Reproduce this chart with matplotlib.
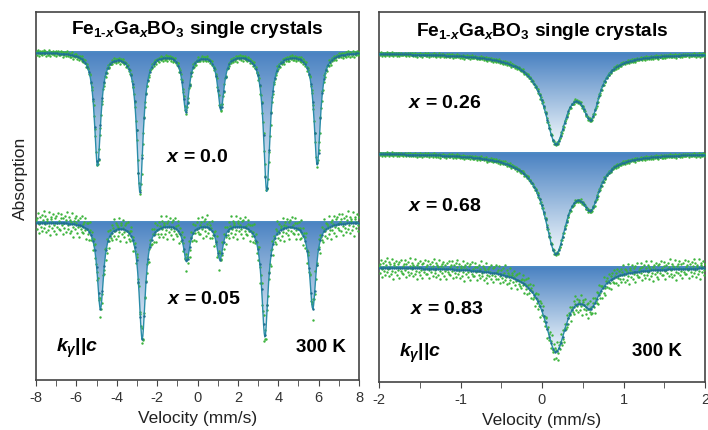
import numpy as np
import matplotlib
matplotlib.use("Agg")
import matplotlib.pyplot as plt
from matplotlib.colors import LinearSegmentedColormap
from matplotlib.patches import Polygon
from matplotlib.ticker import MultipleLocator

plt.rcParams["font.family"] = ["Liberation Sans", "DejaVu Sans"]
plt.rcParams["mathtext.fontset"] = "custom"
plt.rcParams["mathtext.rm"] = "Liberation Sans:bold"
plt.rcParams["mathtext.it"] = "Liberation Sans:italic:bold"
plt.rcParams["mathtext.bf"] = "Liberation Sans:bold"
plt.rcParams["axes.unicode_minus"] = False

# ── Data (vertical units = offset in plot units) ──
# left panel: six-line spectra
left_baseline  = [328, 158]
left_pos_00    = [-4.95, -2.85, -0.57, 1.16, 3.43, 5.93]
left_depth_00  = [113, 139, 58, 56, 138, 112]
left_hw_00     = [0.19, 0.19, 0.19, 0.19, 0.19, 0.19]
left_pos_05    = [-4.81, -2.74, -0.54, 1.11, 3.34, 5.71]
left_depth_05  = [86, 116, 38, 36, 114, 86]
left_hw_05     = [0.19, 0.19, 0.19, 0.19, 0.19, 0.19]
left_noise     = [1.6, 6.0]

# right panel: doublets (main line, second line, broad part)
right_baseline = [329, 229, 115]
right_pos      = [0.17, 0.60, 0.15]
right_hw       = [0.16, 0.13, 0.45]
right_depth_26 = [74.6, 51.9, 12]
right_depth_68 = [84.5, 41.2, 13]
right_depth_83 = [72.6, 28.1, 10]
right_noise    = [1.0, 1.0, 5.0]

# scatter of measured points around fit (typed, reused along the channels)
resid = [0.4, -1.1, 0.8, 1.6, -0.3, -1.8, 0.9, 0.1, -0.7, 1.3, -1.4, 0.5,
         2.0, -0.9, -0.2, 1.1, -1.6, 0.7, 0.3, -1.2, 1.8, -0.5, -2.1, 0.6,
         1.0, -0.8, 0.2, 1.5, -1.3, -0.4, 0.9, -1.9, 1.2, 0.0, -0.6, 1.7, -1.0]

GREEN = "#3cb43c"
FIT   = "#2a8ca8"
BASE  = "#4a88c4"
cmap  = LinearSegmentedColormap.from_list("grad", ["#f2f8fc", "#4a82c2"])


def absorption(v, pos, depth, hw):
    a = np.zeros_like(v)
    for p, d, g in zip(pos, depth, hw):
        a += d / (1 + ((v - p) / g) ** 2)
    return a


def draw_spectrum(ax, v, base, pos, depth, hw, noise, xr):
    fit = base - absorption(v, pos, depth, hw)
    ymin = fit.min()
    verts = np.column_stack([np.r_[v, v[::-1]], np.r_[fit, np.full_like(v, base)]])
    poly = Polygon(verts, closed=True, facecolor="none", edgecolor="none")
    ax.add_patch(poly)
    grad = np.linspace(0, 1, 256).reshape(-1, 1)
    im = ax.imshow(grad, cmap=cmap, origin="lower", aspect="auto",
                   extent=[xr[0], xr[1], ymin, base], zorder=1)
    im.set_clip_path(poly)
    ax.axhline(base, color=BASE, lw=1.4, zorder=2)
    pts = fit + noise * np.resize(resid, v.size)
    ax.scatter(v, pts, s=3, color=GREEN, lw=0, zorder=3)
    ax.plot(v, fit, color=FIT, lw=1.0, zorder=4)
    ax.plot(v[::3], fit[::3], ".", color="#1f6f8f", ms=1.5, zorder=4)


def style_axes(ax):
    for s in ax.spines.values():
        s.set_color("#444444")
        s.set_linewidth(1.2)
    ax.set_yticks([])
    ax.tick_params(axis="x", which="both", direction="out", length=4,
                   color="#444444", labelsize=10.5, labelcolor="#333333")
    ax.set_xlabel("Velocity (mm/s)", fontsize=12.5, color="#222222", labelpad=4)


fig = plt.figure(figsize=(7.08, 4.31), dpi=100)
W, H = 708, 431
axL = fig.add_axes([36 / W, 1 - 381 / H, 323 / W, 368 / H])
axR = fig.add_axes([379 / W, 1 - 383 / H, 326 / W, 370 / H])

# ── Left panel ─────────────────────────────────────────────────────────────
vL = np.linspace(-8, 8, 512)
draw_spectrum(axL, vL, left_baseline[0], left_pos_00, left_depth_00,
              left_hw_00, left_noise[0], (-8, 8))
draw_spectrum(axL, vL, left_baseline[1], left_pos_05, left_depth_05,
              left_hw_05, left_noise[1], (-8, 8))
axL.set_xlim(-8, 8)
axL.set_ylim(0, 368)
axL.xaxis.set_major_locator(MultipleLocator(2))
axL.xaxis.set_minor_locator(MultipleLocator(1))
style_axes(axL)
axL.set_ylabel("Absorption", fontsize=12.5, color="#222222")
axL.yaxis.set_label_coords(-0.025, 0.55)

title = r"Fe$_{\mathrm{1}\text{-}x}$Ga$_x$BO$_3$ single crystals"
axL.text(0, 351, title, ha="center", va="center", fontsize=13.8, fontweight="bold")
axL.text(0, 223, r"$x$ = 0.0", ha="center", va="center", fontsize=14, fontweight="bold")
axL.text(0.3, 81, r"$x$ = 0.05", ha="center", va="center", fontsize=14, fontweight="bold")
axL.text(-7.0, 33, r"$k_{\gamma}$||$c$", ha="left", va="center", fontsize=14, fontweight="bold")
axL.text(6.1, 33, "300 K", ha="center", va="center", fontsize=13.5, fontweight="bold")

# ── Right panel ────────────────────────────────────────────────────────────
vR = np.linspace(-2, 2, 512)
for base, dep, nz in zip(right_baseline,
                         [right_depth_26, right_depth_68, right_depth_83],
                         right_noise):
    draw_spectrum(axR, vR, base, right_pos, dep, right_hw, nz, (-2, 2))
axR.set_xlim(-2, 2)
axR.set_ylim(0, 370)
axR.xaxis.set_major_locator(MultipleLocator(1))
axR.xaxis.set_minor_locator(MultipleLocator(0.5))
style_axes(axR)

axR.text(0, 351, title, ha="center", va="center", fontsize=13.8, fontweight="bold")
axR.text(-1.19, 280, r"$x$ = 0.26", ha="center", va="center", fontsize=14, fontweight="bold")
axR.text(-1.19, 176, r"$x$ = 0.68", ha="center", va="center", fontsize=14, fontweight="bold")
axR.text(-1.17, 74, r"$x$ = 0.83", ha="center", va="center", fontsize=14, fontweight="bold")
axR.text(-1.75, 30, r"$k_{\gamma}$||$c$", ha="left", va="center", fontsize=14, fontweight="bold")
axR.text(1.41, 31, "300 K", ha="center", va="center", fontsize=13.5, fontweight="bold")

fig.savefig("out.png", dpi=100)
